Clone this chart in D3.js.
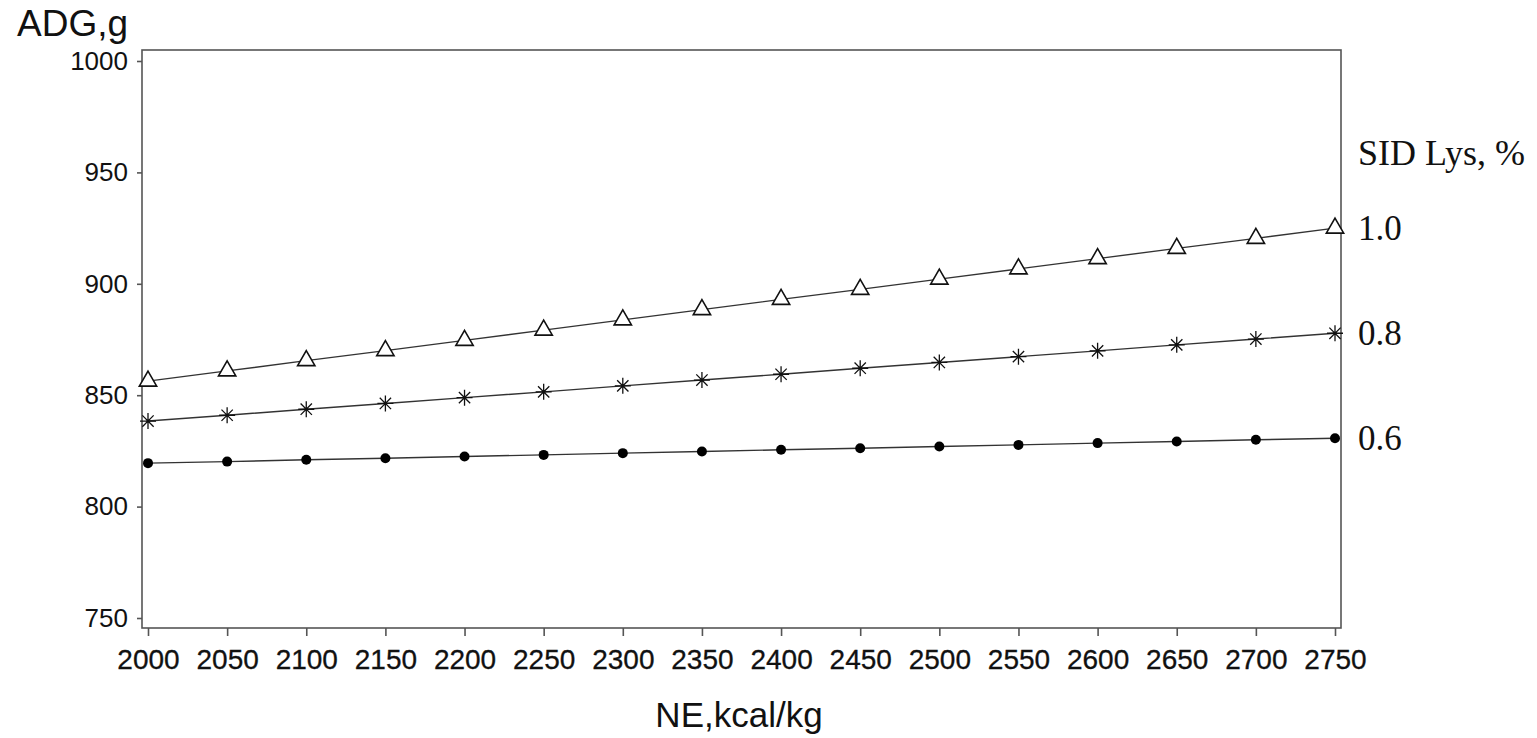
<!DOCTYPE html>
<html><head><meta charset="utf-8">
<script src="https://cdn.jsdelivr.net/npm/d3@7"></script>
<style>body{margin:0;background:#fff}svg{display:block}</style>
</head><body>
<script>
const neValues = [2000,2050,2100,2150,2200,2250,2300,2350,2400,2450,2500,2550,2600,2650,2700,2750];
const lys10 = [856.3,860.9,865.5,870.0,874.6,879.2,883.8,888.4,893.0,897.5,902.1,906.7,911.3,915.9,920.4,925.0];
const lys08 = [838.4,841.0,843.7,846.3,848.9,851.5,854.2,856.8,859.4,862.1,864.7,867.3,869.9,872.6,875.2,877.8];
const lys06 = [819.5,820.2,821.0,821.7,822.5,823.2,824.0,824.7,825.5,826.2,827.0,827.7,828.5,829.2,830.0,830.7];
const seriesLabels = ["1.0","0.8","0.6"];
const yTicks = [750,800,850,900,950,1000];
const xTitle = "NE,kcal/kg";
const yTitle = "ADG,g";
const legendTitle = "SID Lys, %";

const W = 1537, H = 738;
const svg = d3.select("body").append("svg").attr("width", W).attr("height", H);
const x = d3.scaleLinear().domain([2000, 2750]).range([148, 1335]);
const y = d3.scaleLinear().domain([750, 1000]).range([618, 61]);
const frame = {l: 142, r: 1341, t: 50, b: 628};

// frame
svg.append("rect").attr("x", frame.l).attr("y", frame.t)
  .attr("width", frame.r - frame.l).attr("height", frame.b - frame.t)
  .attr("fill", "none").attr("stroke", "#555").attr("stroke-width", 1.6);

// x axis
const xAxis = svg.append("g").attr("transform", `translate(0,${frame.b})`)
  .call(d3.axisBottom(x).tickValues(neValues).tickSize(8).tickPadding(13).tickFormat(d3.format("d")));
xAxis.select(".domain").remove();
xAxis.selectAll("line").attr("stroke", "#555").attr("stroke-width", 1.6);
xAxis.selectAll("text").attr("font-family", "Liberation Sans, Arial, sans-serif").attr("font-size", 28)
  .attr("fill", "#111").attr("stroke", "#111").attr("stroke-width", 0.3);

// y axis
const yAxis = svg.append("g").attr("transform", `translate(${frame.l},0)`)
  .call(d3.axisLeft(y).tickValues(yTicks).tickSize(5).tickPadding(9).tickFormat(d3.format("d")));
yAxis.select(".domain").remove();
yAxis.selectAll("line").attr("stroke", "#555").attr("stroke-width", 1.6);
yAxis.selectAll("text").attr("font-family", "Liberation Sans, Arial, sans-serif").attr("font-size", 26).attr("fill", "#111");

// titles
svg.append("text").attr("x", 17).attr("y", 36).text(yTitle)
  .attr("font-family", "Liberation Sans, Arial, sans-serif").attr("font-size", 37).attr("fill", "#111");
svg.append("text").attr("x", 739).attr("y", 727).attr("text-anchor", "middle").text(xTitle)
  .attr("font-family", "Liberation Sans, Arial, sans-serif").attr("font-size", 35).attr("fill", "#111");
svg.append("text").attr("x", 1358).attr("y", 165).text(legendTitle)
  .attr("font-family", "Liberation Serif, Times New Roman, serif").attr("font-size", 36).attr("fill", "#111");

const series = [
  {vals: lys10, sym: "tri", label: seriesLabels[0]},
  {vals: lys08, sym: "star", label: seriesLabels[1]},
  {vals: lys06, sym: "dot", label: seriesLabels[2]}
];
const line = d3.line().x((d, i) => x(neValues[i])).y(d => y(d));

series.forEach(s => {
  svg.append("path").datum(s.vals).attr("d", line)
    .attr("fill", "none").attr("stroke", "#333").attr("stroke-width", 1.4);
  const g = svg.append("g");
  s.vals.forEach((v, i) => {
    const cx = x(neValues[i]), cy = y(v);
    if (s.sym === "tri") {
      g.append("path").attr("d", d3.symbol(d3.symbolTriangle, 130)())
        .attr("transform", `translate(${cx},${cy})`)
        .attr("fill", "#fff").attr("stroke", "#111").attr("stroke-width", 1.6);
    } else if (s.sym === "star") {
      const r = 8;
      const p = d3.path();
      for (let k = 0; k < 4; k++) {
        const a = k * Math.PI / 4;
        p.moveTo(cx - r * Math.cos(a), cy - r * Math.sin(a));
        p.lineTo(cx + r * Math.cos(a), cy + r * Math.sin(a));
      }
      g.append("path").attr("d", p.toString()).attr("stroke", "#111").attr("stroke-width", 1.3).attr("fill", "none");
    } else {
      g.append("circle").attr("cx", cx).attr("cy", cy).attr("r", 5).attr("fill", "#000");
    }
  });
  svg.append("text").attr("x", 1358).attr("y", y(s.vals[s.vals.length - 1]) + 12).text(s.label)
    .attr("font-family", "Liberation Serif, Times New Roman, serif").attr("font-size", 35).attr("fill", "#111");
});
</script>
</body></html>
